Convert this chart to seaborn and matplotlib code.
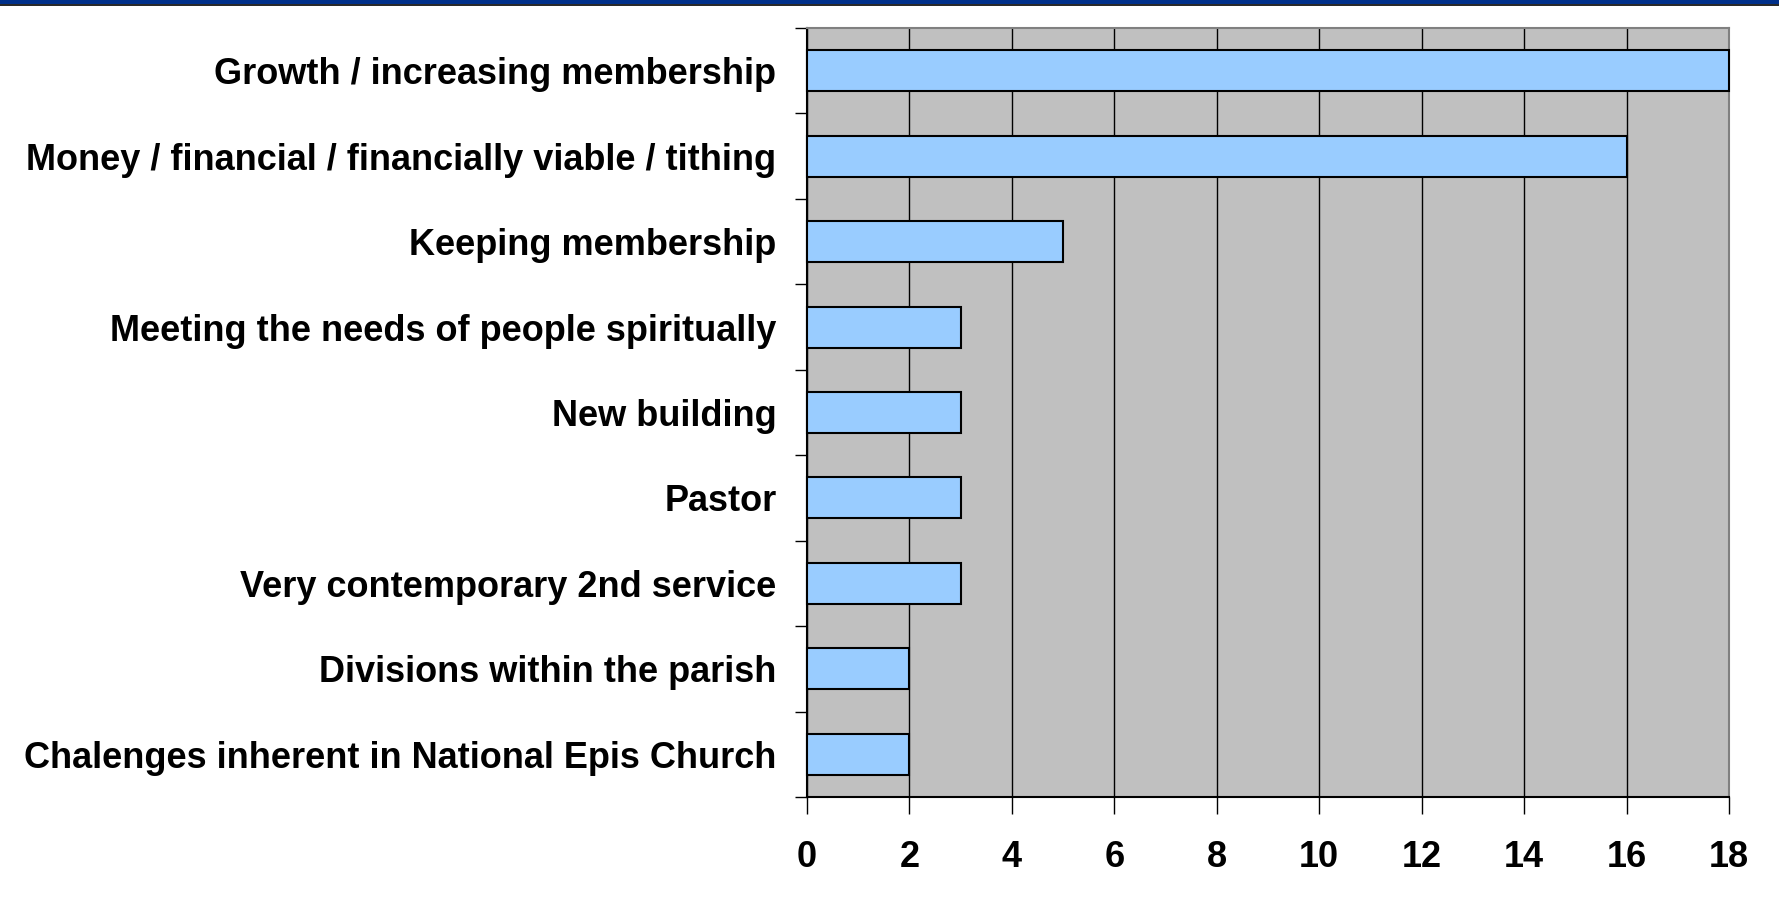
import matplotlib
matplotlib.use("Agg")
import matplotlib.pyplot as plt
from matplotlib.lines import Line2D
from matplotlib.patches import Rectangle
import numpy as np
import pandas as pd
import seaborn as sns

# Data
categories = [
    "Growth / increasing membership",
    "Money / financial / financially viable / tithing",
    "Keeping membership",
    "Meeting the needs of people spiritually",
    "New building",
    "Pastor",
    "Very contemporary 2nd service",
    "Divisions within the parish",
    "Chalenges inherent in National Epis Church",
]
counts = [18, 16, 5, 3, 3, 3, 3, 2, 2]
x_ticks = [0, 2, 4, 6, 8, 10, 12, 14, 16, 18]

df = pd.DataFrame({"category": categories, "count": counts})

sns.set_style("white")
plt.rcParams["font.family"] = ["Liberation Sans", "DejaVu Sans"]
plt.rcParams["text.color"] = "black"
plt.rcParams["xtick.color"] = "black"
plt.rcParams["ytick.color"] = "black"

fig = plt.figure(figsize=(17.79, 9.06), dpi=100)
ax = fig.add_axes([807 / 1779, 1 - 797 / 906, 922 / 1779, 769 / 906])
ax.set_facecolor("#C0C0C0")

sns.barplot(data=df, x="count", y="category", orient="h", color="#99CCFF",
            saturation=1, width=0.48, edgecolor="black", linewidth=1.5, ax=ax)
for p in ax.patches:
    p.set_clip_on(False)
    p.set_zorder(3)

ax.set_xlim(0, 18)
ax.set_ylim(len(categories) - 0.5, -0.5)
ax.set_xticks(x_ticks)
ax.set_xticklabels([str(t) for t in x_ticks], fontsize=26, fontweight="bold", color="black")
ax.tick_params(axis="x", length=12, width=1, color="black", pad=19, direction="out", bottom=True)
ax.set_yticks(range(len(categories)))
ax.set_yticklabels(categories, fontsize=26, fontweight="bold", color="black")
ax.tick_params(axis="y", which="major", length=0, pad=22)
ax.set_yticks(np.arange(-0.5, len(categories), 1), minor=True)
ax.tick_params(axis="y", which="minor", length=9, width=1, color="black", left=True)

ax.grid(axis="x", color="black", linewidth=1)
ax.grid(axis="y", visible=False)
ax.set_axisbelow(True)
ax.set_xlabel("")
ax.set_ylabel("")

for side in ["left", "bottom"]:
    ax.spines[side].set_color("black")
    ax.spines[side].set_linewidth(1.5)
for side in ["right", "top"]:
    ax.spines[side].set_color("#808080")
    ax.spines[side].set_linewidth(1.5)

# header band
fig.patches.append(Rectangle((0, 1 - 4 / 906), 1, 4 / 906, transform=fig.transFigure,
                             facecolor="#00308A", edgecolor="none"))
fig.lines.append(Line2D([0, 1], [1 - 4.5 / 906, 1 - 4.5 / 906], transform=fig.transFigure,
                        color="black", linewidth=1.2))

fig.savefig("out.png", dpi=100)
